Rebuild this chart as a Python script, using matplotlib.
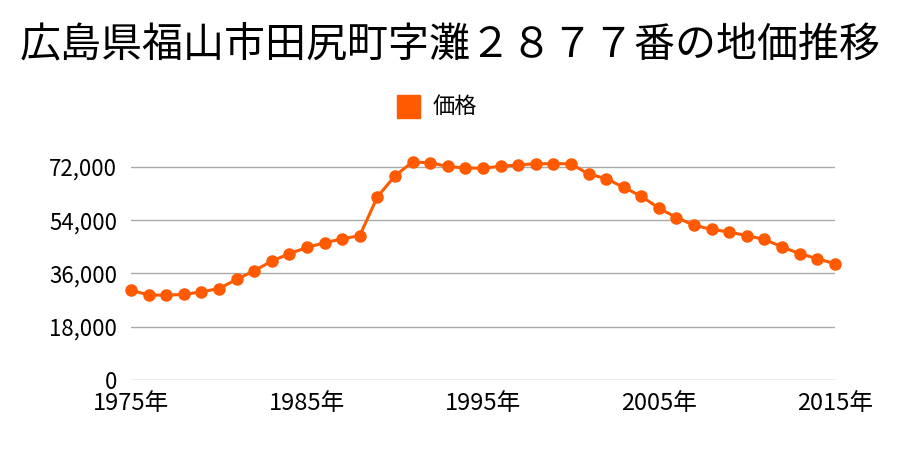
import matplotlib
matplotlib.use('Agg')
import matplotlib.pyplot as plt
from matplotlib.ticker import FuncFormatter

plt.rcParams['font.family'] = ['Noto Sans CJK JP', 'DejaVu Sans']

# data
years = list(range(1975, 2016))
prices = [30400, 28700, 28700, 28900, 29800, 30900, 34000, 36900, 40200, 42700,
          44800, 46400, 47700, 48800, 61900, 69000, 73700, 73400, 72200, 71600,
          71600, 72200, 72700, 73100, 73100, 73100, 69600, 68100, 65100, 62100,
          58100, 54900, 52300, 50900, 50000, 48800, 47500, 45000, 42700, 41000,
          39300]
yticks = [0, 18000, 36000, 54000, 72000]
xticks = [1975, 1985, 1995, 2005, 2015]
title = '広島県福山市田尻町字灘２８７７番の地価推移'
series_name = '価格'

color = '#ff5a00'

fig = plt.figure(figsize=(9, 4.5), dpi=100)
ax = fig.add_axes([0.1456, 0.1556, 0.782, 0.5325])

ax.plot(years, prices, color=color, lw=2.2, marker='o', ms=8,
        clip_on=False, zorder=3, label=series_name)

ax.set_xlim(1975, 2015)
ax.set_ylim(0, 81000)
ax.set_yticks(yticks)
ax.set_xticks(xticks)
ax.yaxis.set_major_formatter(FuncFormatter(lambda v, p: f'{int(v):,}'))
ax.set_xticklabels([f'{y}年' for y in xticks])
ax.grid(axis='y', color='#aaaaaa', lw=1)
ax.set_axisbelow(True)
for s in ax.spines.values():
    s.set_visible(False)
ax.tick_params(length=0, colors='black')
ax.tick_params(axis='y', pad=10, labelsize=16)
ax.tick_params(axis='x', pad=9, labelsize=17)

fig.text(0.5, 1 - 45 / 450, title, ha='center', va='center', fontsize=29.5)

# legend: square marker + label
fig.patches.append(plt.Rectangle((397 / 900, 1 - 118 / 450), 23 / 900, 23 / 450,
                                 transform=fig.transFigure, color=color))
fig.text(433 / 900, 1 - 106 / 450, series_name, ha='left', va='center', fontsize=16)

plt.savefig('out.png', dpi=100)
